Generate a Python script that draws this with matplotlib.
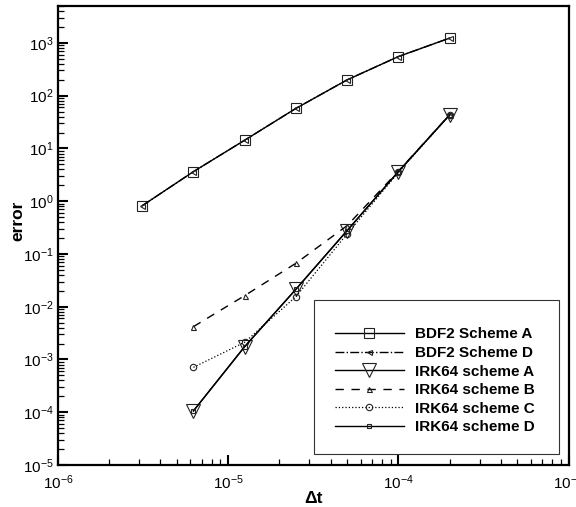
import matplotlib
matplotlib.use("Agg")
import matplotlib.pyplot as plt
from matplotlib.patches import Rectangle
from matplotlib.ticker import LogLocator, NullFormatter

plt.rcParams['font.family'] = ['Liberation Sans', 'DejaVu Sans']
plt.rcParams['mathtext.fontset'] = 'custom'
plt.rcParams['mathtext.rm'] = 'Liberation Sans'
plt.rcParams['mathtext.it'] = 'Liberation Sans:italic'
plt.rcParams['mathtext.bf'] = 'Liberation Sans:bold'

# Data
dt_bdf2 = [3.125e-6, 6.25e-6, 1.25e-5, 2.5e-5, 5e-5, 1e-4, 2e-4]
bdf2_A = [0.82, 3.63, 14.3, 57.3, 199, 550, 1230]
bdf2_D = [0.82, 3.63, 14.3, 57.3, 199, 550, 1230]

dt_irk = [6.25e-6, 1.25e-5, 2.5e-5, 5e-5, 1e-4, 2e-4]
irk_A = [1.06e-4, 1.75e-3, 0.0214, 0.277, 3.63, 43]
irk_B = [4.19e-3, 0.0162, 0.0665, 0.344, 3.7, 43]
irk_C = [7.1e-4, 2.12e-3, 0.0155, 0.24, 3.5, 43]
irk_D = [1.06e-4, 1.75e-3, 0.0214, 0.277, 3.63, 43]

labels = ["BDF2 Scheme A", "BDF2 Scheme D", "IRK64 scheme A",
          "IRK64 scheme B", "IRK64 scheme C", "IRK64 scheme D"]

fig = plt.figure(figsize=(5.76, 5.07), dpi=100)
ax = fig.add_axes([58/576, 1-465/507, 510.5/576, 459/507])

mew = 0.8
h1, = ax.plot(dt_bdf2, bdf2_A, '-', color='black', lw=1.0, marker='s', ms=7.2,
              mfc='none', mec='#222222', mew=mew, label=labels[0])
h2, = ax.plot(dt_bdf2, bdf2_D, '-.', color='black', lw=1.0, marker='<', ms=3.6,
              mfc='none', mec='#222222', mew=mew, label=labels[1])
h3, = ax.plot(dt_irk, irk_A, '-', color='black', lw=1.0, marker='v', ms=9.6,
              mfc='none', mec='#222222', mew=mew, label=labels[2])
h4, = ax.plot(dt_irk, irk_B, color='black', lw=1.0, marker='^', ms=3.6,
              mfc='none', mec='#222222', mew=mew, label=labels[3])
h4.set_dashes((6, 5.5))
h5, = ax.plot(dt_irk, irk_C, ':', color='black', lw=0.9, marker='o', ms=4.6,
              mfc='none', mec='#222222', mew=mew, label=labels[4])
h6, = ax.plot(dt_irk, irk_D, '-', color='black', lw=1.0, marker='s', ms=3.2,
              mfc='none', mec='#222222', mew=mew, label=labels[5])

ax.set_xscale('log')
ax.set_yscale('log')
ax.set_xlim(1e-6, 1e-3)
ax.set_ylim(1e-5, 5e3)

ax.xaxis.set_major_locator(LogLocator(base=10, numticks=20))
ax.yaxis.set_major_locator(LogLocator(base=10, numticks=20))
ax.xaxis.set_minor_locator(LogLocator(base=10, subs=range(2, 10), numticks=20))
ax.yaxis.set_minor_locator(LogLocator(base=10, subs=range(2, 10), numticks=20))
ax.xaxis.set_minor_formatter(NullFormatter())
ax.yaxis.set_minor_formatter(NullFormatter())

ax.tick_params(which='major', direction='in', length=7.5, width=1.5,
               labelsize=11, top=False, right=False)
ax.tick_params(which='minor', direction='in', length=4.5, width=0.9,
               top=False, right=False)
ax.tick_params(axis='x', which='major', pad=6)
ax.tick_params(axis='y', which='major', pad=3)

for s in ax.spines.values():
    s.set_linewidth(1.6)

ax.set_xlabel('Δt', fontsize=12.5, fontweight='bold')
ax.set_ylabel('error', fontsize=12.5, fontweight='bold')
ax.xaxis.set_label_coords(0.5, -0.057)
ax.yaxis.set_label_coords(-0.063, 0.532)

# Legend frame
x0 = (314-58)/510.5
x1 = (559-58)/510.5
y0 = (465-454)/459
y1 = (465-300)/459
ax.add_patch(Rectangle((x0, y0), x1-x0, y1-y0, transform=ax.transAxes,
                       facecolor='white', edgecolor='#333333', lw=0.8, zorder=5))

leg = ax.legend(handles=[h1, h2, h3, h4, h5, h6], loc='upper left',
                bbox_to_anchor=((335-58)/510.5, (465-333)/459 + 0.012),
                frameon=False, borderpad=0, borderaxespad=0,
                handlelength=4.5, handletextpad=0.75, labelspacing=0.3,
                prop={'weight': 'bold', 'size': 11}, numpoints=1)
leg.set_zorder(6)

fig.savefig('out.png', dpi=100)
